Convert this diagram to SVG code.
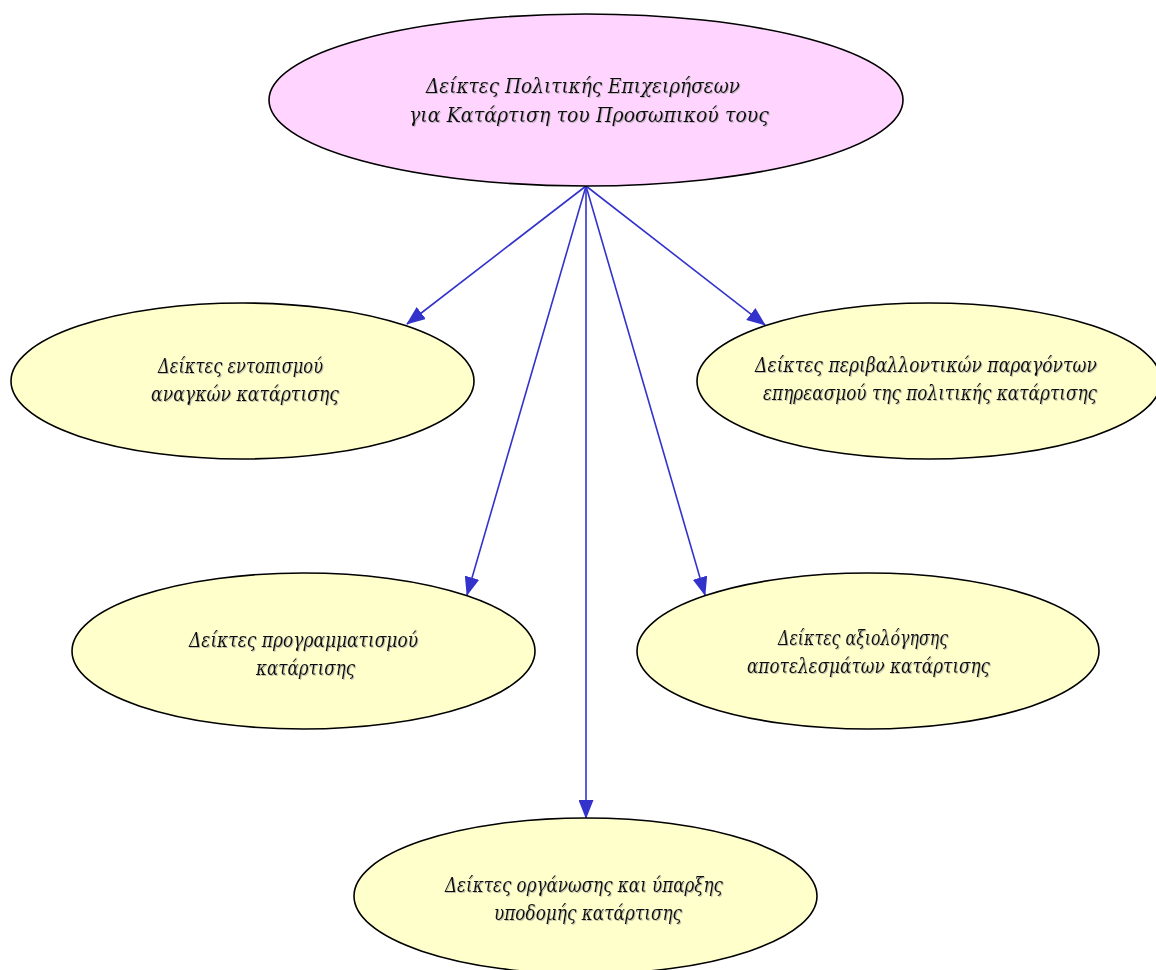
<svg xmlns="http://www.w3.org/2000/svg" width="1156" height="970" viewBox="0 0 1156 970">
<style>
.n{stroke:#000;stroke-width:1.6}
.root{fill:#ffd4ff}
.leaf{fill:#ffffcc}
.t{font-family:"DejaVu Serif",serif;font-style:italic;font-size:20.5px;fill:#111;text-anchor:middle;filter:url(#sh)}
.e{stroke:#3333cc;stroke-width:1.6;fill:none;marker-end:url(#ah)}
</style>
<defs>
<marker id="ah" markerWidth="19" markerHeight="15" refX="18" refY="7.5" orient="auto" markerUnits="userSpaceOnUse">
<path d="M0,0 L19,7.5 L0,15 Z" fill="#3333cc"/>
</marker>
<filter id="sh" x="-5%" y="-30%" width="110%" height="160%">
<feDropShadow dx="1" dy="1" stdDeviation="0.6" flood-color="#999" flood-opacity="0.6"/>
</filter>
</defs>
<rect width="1156" height="970" fill="#fff"/>
<g id="edges">
<line class="e" x1="586" y1="186" x2="407" y2="324"/>
<line class="e" x1="586" y1="186" x2="765" y2="325"/>
<line class="e" x1="586" y1="186" x2="467" y2="595"/>
<line class="e" x1="586" y1="186" x2="705" y2="595"/>
<line class="e" x1="586" y1="186" x2="586" y2="818"/>
</g>
<g id="root">
<ellipse class="n root" cx="586" cy="100" rx="317" ry="86"/>
<text class="t" x="583" y="93" textLength="314" lengthAdjust="spacingAndGlyphs">Δείκτες Πολιτικής Επιχειρήσεων</text>
<text class="t" x="589" y="122" textLength="360" lengthAdjust="spacingAndGlyphs">για Κατάρτιση του Προσωπικού τους</text>
</g>
<g id="n1">
<ellipse class="n leaf" cx="242.5" cy="381" rx="231.5" ry="78"/>
<text class="t" x="240.5" y="373" textLength="165" lengthAdjust="spacingAndGlyphs">Δείκτες εντοπισμού</text>
<text class="t" x="245" y="401" textLength="188" lengthAdjust="spacingAndGlyphs">αναγκών κατάρτισης</text>
</g>
<g id="n2">
<ellipse class="n leaf" cx="929" cy="381" rx="232" ry="78"/>
<text class="t" x="926" y="372" textLength="342" lengthAdjust="spacingAndGlyphs">Δείκτες περιβαλλοντικών παραγόντων</text>
<text class="t" x="930" y="400" textLength="334" lengthAdjust="spacingAndGlyphs">επηρεασμού της πολιτικής κατάρτισης</text>
</g>
<g id="n3">
<ellipse class="n leaf" cx="303.5" cy="651" rx="231.5" ry="78"/>
<text class="t" x="303.5" y="647" textLength="229" lengthAdjust="spacingAndGlyphs">Δείκτες προγραμματισμού</text>
<text class="t" x="305.5" y="675" textLength="99" lengthAdjust="spacingAndGlyphs">κατάρτισης</text>
</g>
<g id="n4">
<ellipse class="n leaf" cx="868" cy="651" rx="231" ry="78"/>
<text class="t" x="863" y="645" textLength="170" lengthAdjust="spacingAndGlyphs">Δείκτες αξιολόγησης</text>
<text class="t" x="868.5" y="673" textLength="243" lengthAdjust="spacingAndGlyphs">αποτελεσμάτων κατάρτισης</text>
</g>
<g id="n5">
<ellipse class="n leaf" cx="585.5" cy="896" rx="231.5" ry="78"/>
<text class="t" x="584" y="892" textLength="278" lengthAdjust="spacingAndGlyphs">Δείκτες οργάνωσης και ύπαρξης</text>
<text class="t" x="588" y="920" textLength="188" lengthAdjust="spacingAndGlyphs">υποδομής κατάρτισης</text>
</g>
</svg>
